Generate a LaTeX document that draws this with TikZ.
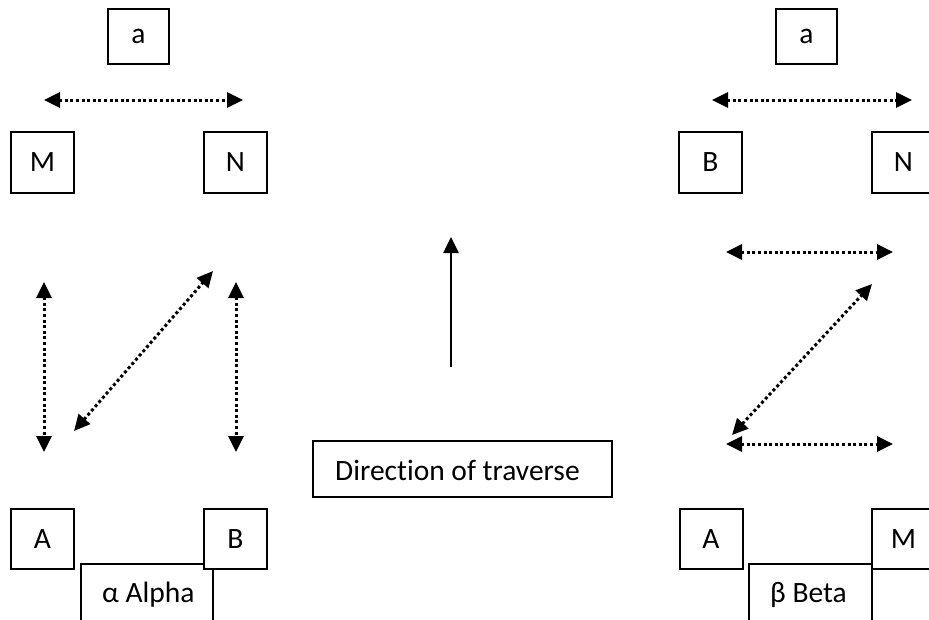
\documentclass[tikz,border=0pt]{standalone}
\usepackage{fontspec}
\setmainfont{Carlito}[Ligatures={NoCommon}]
\usetikzlibrary{arrows.meta}
\tikzset{
  txt/.style={font=\fontsize{29.5}{35}\selectfont, inner sep=0pt},
  lbl/.style={draw=black, line width=2pt, fill=white, inner sep=0pt, minimum width=63pt, minimum height=61pt, txt},
  capbox/.style={draw=black, line width=2pt, fill=white, inner sep=0pt, minimum height=60pt},
  dotarrow/.style={line width=3pt, dash pattern=on 3pt off 2.6pt, {Triangle[length=16pt,width=15pt]}-{Triangle[length=16pt,width=15pt]}},
  solidarrow/.style={line width=2.6pt, -{Triangle[length=16pt,width=15pt]}}
}
\begin{document}
\begin{tikzpicture}[x=1pt,y=-1pt]
\useasboundingbox (0,0) rectangle (929,619);
\clip (0,0) rectangle (929,619);
% left group
\node[lbl, minimum width=61pt, minimum height=55pt] (la) at (138.5,36.5) {a};
\node[lbl] (lM) at (42.5,162.5) {M};
\node[lbl] (lN) at (235.5,162.5) {N};
\node[capbox, minimum width=132pt] (alpha) at (147,594) {};
\node[txt, anchor=west] (alphaT) at (102,595) {α Alpha};
\node[lbl, minimum height=60pt] (lA) at (42.5,539) {A};
\node[lbl, minimum height=60pt] (lB) at (235.5,539) {B};
\coordinate (l1a) at (44,100); \coordinate (l1b) at (243,100);
\coordinate (l2a) at (44,282); \coordinate (l2b) at (44,452);
\coordinate (l3a) at (74,431); \coordinate (l3b) at (213,271);
\coordinate (l4a) at (236,282); \coordinate (l4b) at (236,452);
\draw[dotarrow] (l1a) -- (l1b);
\draw[dotarrow] (l2a) -- (l2b);
\draw[dotarrow] (l3a) -- (l3b);
\draw[dotarrow] (l4a) -- (l4b);
% centre
\coordinate (c1) at (451,367); \coordinate (c2) at (451,237);
\draw[solidarrow] (c1) -- (c2);
\node[capbox, minimum width=299pt, minimum height=56pt] (dir) at (462.5,469) {};
\node[txt, anchor=west] (dirT) at (335,470) {Direction of traverse};
% right group
\node[lbl, minimum width=61pt, minimum height=55pt] (ra) at (806.5,36.5) {a};
\node[lbl] (rB) at (710.5,162.5) {B};
\node[lbl] (rN) at (903.5,162.5) {N};
\node[capbox, minimum width=123pt] (beta) at (810.5,594) {};
\node[txt, anchor=west] (betaT) at (770,595) {β Beta};
\node[lbl, minimum height=60pt] (rA) at (711,539) {A};
\node[lbl, minimum height=60pt] (rM) at (903.5,539) {M};
\coordinate (r1a) at (712,100); \coordinate (r1b) at (912,100);
\coordinate (r2a) at (726,252); \coordinate (r2b) at (893,252);
\coordinate (r3a) at (732,435); \coordinate (r3b) at (872,284);
\coordinate (r4a) at (726,444); \coordinate (r4b) at (893,444);
\draw[dotarrow] (r1a) -- (r1b);
\draw[dotarrow] (r2a) -- (r2b);
\draw[dotarrow] (r3a) -- (r3b);
\draw[dotarrow] (r4a) -- (r4b);
\end{tikzpicture}
\end{document}
